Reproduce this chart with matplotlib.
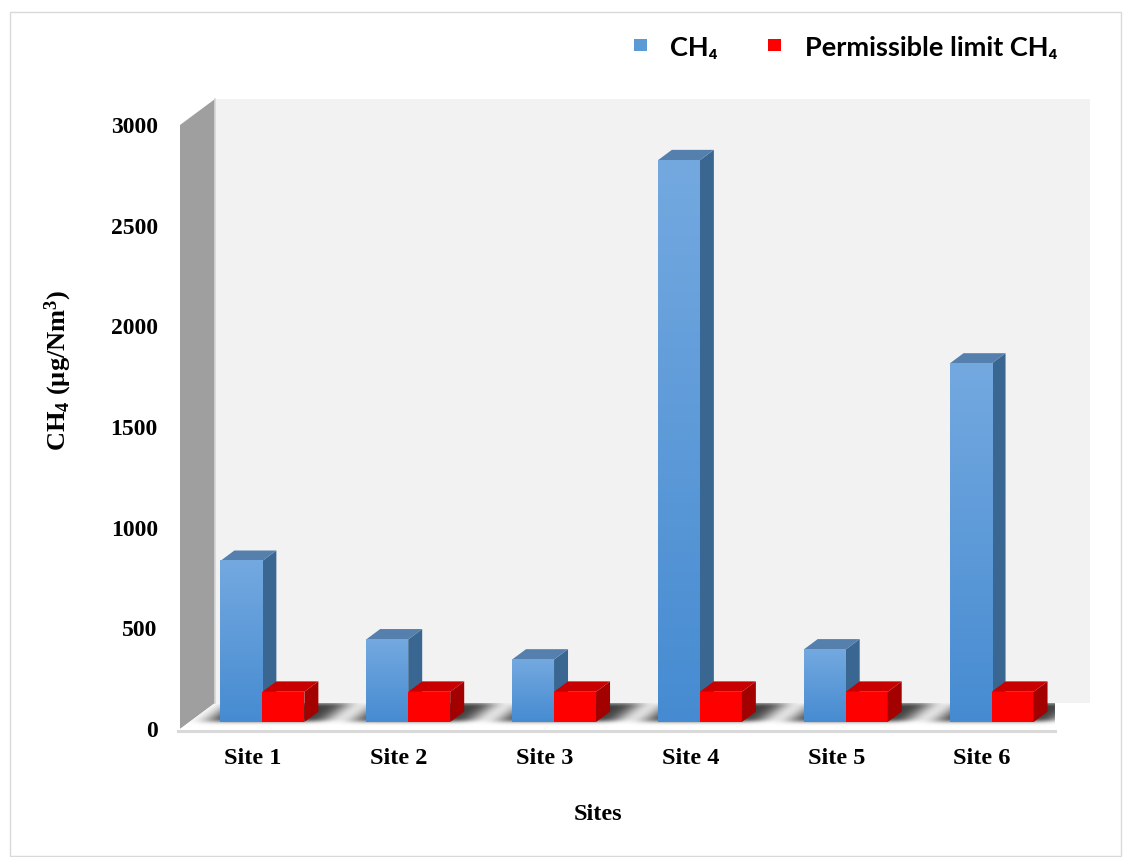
import numpy as np
import matplotlib
matplotlib.use("Agg")
import matplotlib.pyplot as plt
from matplotlib.patches import Polygon, Rectangle
from matplotlib.lines import Line2D
from matplotlib.transforms import Affine2D, IdentityTransform

# ---- data ----
sites = ["Site 1", "Site 2", "Site 3", "Site 4", "Site 5", "Site 6"]
ch4 = [800, 410, 310, 2790, 360, 1780]
limit_ch4 = [150, 150, 150, 150, 150, 150]
y_ticks = [0, 500, 1000, 1500, 2000, 2500, 3000]

plt.rcParams["mathtext.fontset"] = "custom"
plt.rcParams["mathtext.rm"] = "Liberation Serif:bold"
plt.rcParams["mathtext.bf"] = "Liberation Serif:bold"
plt.rcParams["mathtext.it"] = "Liberation Serif:bold:italic"

W, H, DPI = 1127, 857, 100
fig = plt.figure(figsize=(W / DPI, H / DPI), dpi=DPI)
fig.patch.set_facecolor("white")

# front plane of the 3-D box (pixel columns / rows, rows counted from top)
X0, X1 = 180, 1055
R0, R1 = 729, 125
ax = fig.add_axes([X0 / W, 1 - R0 / H, (X1 - X0) / W, (R0 - R1) / H])
ax.set_xlim(0, 6)
ax.set_ylim(0, 3000)
ax.patch.set_visible(False)
for s in ax.spines.values():
    s.set_visible(False)

DX, DY = 35.0, 26.0          # full depth of the box, display pixels
F0, F1 = 0.27, 0.67          # depth slab occupied by the bars
BW = 0.288                   # width of one bar in category units


def P(x, y, f):
    px, py = ax.transData.transform((x, y))
    return (px + f * DX, py + f * DY)


def face(pts, color, z, **kw):
    ax.add_patch(Polygon(pts, closed=True, facecolor=color, edgecolor="none",
                         transform=IdentityTransform(), clip_on=False,
                         zorder=z, **kw))


# ---- walls and floor ----
face([P(0, 0, 1), P(6, 0, 1), P(6, 3000, 1), P(0, 3000, 1)], "#f2f2f2", 0)
face([P(0, 0, 0), P(0, 3000, 0), P(0, 3000, 1), P(0, 0, 1)], "#9f9f9f", 1)
floor_pts = [P(0, 0, 0), P(6, 0, 0), P(6, 0, 1), P(0, 0, 1)]
floor_patch = Polygon(floor_pts, closed=True, facecolor="white",
                      edgecolor="none", transform=IdentityTransform(),
                      clip_on=False, zorder=1)
ax.add_patch(floor_patch)
(a0x, a0y), (a1x, a1y) = P(0, 0, 0), P(6, 0, 0)
ax.add_line(Line2D([a0x - 2, a1x], [a0y - 1.5, a1y - 1.5], color="#d9d9d9",
                   lw=2.2, transform=IdentityTransform(), clip_on=False,
                   zorder=1.5))
(b0x, b0y), (b1x, b1y) = P(0, 0, 1), P(0, 3000, 1)
ax.add_line(Line2D([b0x, b1x], [b0y, b1y], color="#d6d6d6", lw=1.2,
                   transform=IdentityTransform(), clip_on=False, zorder=1.6))

# ---- soft shadows of the bar groups on the floor ----
nu, nv = 1200, 120
u = np.linspace(0, 6, nu)
v = np.linspace(0, 1, nv)
field = np.zeros((nv, nu))
centers = np.arange(len(sites)) + 0.5
for c in centers:
    cols = (u >= c - BW - 0.10) & (u <= c + BW + 0.13)
    rows = (v >= F0 + 0.02) & (v <= 1.0)
    field[np.ix_(rows, cols)] = 1.0


def blur(a, sigma, axis):
    k = np.arange(-int(4 * sigma), int(4 * sigma) + 1)
    g = np.exp(-0.5 * (k / sigma) ** 2)
    g /= g.sum()
    return np.apply_along_axis(lambda m: np.convolve(m, g, mode="same"), axis, a)


field = blur(field, 14, 1)
field = blur(field, 9, 0)
img = np.zeros((nv, nu, 4))
img[..., :3] = 0.16
img[..., 3] = np.clip(field * 0.9, 0, 1)
ox, oy = ax.transData.transform((0, 0))
sx = ax.transData.transform((1, 0))[0] - ox
floor_tr = Affine2D().from_values(sx, 0, DX, DY, ox, oy)
shadow = ax.imshow(img, extent=(0, 6, 0, 1), origin="lower", aspect="auto",
                   transform=floor_tr, interpolation="bilinear", zorder=2)
shadow.set_clip_path(floor_patch)

# ---- bars ----
bar_tr = ax.transData + Affine2D().translate(F0 * DX, F0 * DY)
blue_left = centers - BW
red_left = centers

blue_bars = ax.bar(blue_left, ch4, width=BW, align="edge", color="#5b9bd5",
                   transform=bar_tr, zorder=3, clip_on=False)
red_bars = ax.bar(red_left, limit_ch4, width=BW, align="edge", color="#ff0000",
                  transform=bar_tr, zorder=6, clip_on=False)

top_rgb = np.array([0x74, 0xa9, 0xe0]) / 255
bot_rgb = np.array([0x46, 0x8b, 0xd1]) / 255
grad = np.linspace(0, 1, 256)[:, None]
grad_img = bot_rgb[None, None, :] * (1 - grad[..., None]) + top_rgb[None, None, :] * grad[..., None]

for xl, h in zip(blue_left, ch4):
    xr = xl + BW
    ax.imshow(grad_img, extent=(xl, xr, 0, h), origin="lower", aspect="auto",
              transform=bar_tr, interpolation="bilinear", zorder=3.5,
              clip_on=False)
    # side and top faces
    face([P(xr, 0, F0), P(xr, h, F0), P(xr, h, F1), P(xr, 0, F1)], "#3a6792", 3.2)
    face([P(xl, h, F0), P(xr, h, F0), P(xr, h, F1), P(xl, h, F1)], "#557fad", 3.2)

for xl, h in zip(red_left, limit_ch4):
    xr = xl + BW
    face([P(xr, 0, F0), P(xr, h, F0), P(xr, h, F1), P(xr, 0, F1)], "#a30000", 6.2)
    face([P(xl, h, F0), P(xr, h, F0), P(xr, h, F1), P(xl, h, F1)], "#c80000", 6.2)

ax.set_xlim(0, 6)
ax.set_ylim(0, 3000)

# ---- ticks and labels ----
serif = dict(family="Liberation Serif", weight="bold")
ax.set_yticks(y_ticks)
ax.set_yticklabels([str(t) for t in y_ticks], fontsize=17, **serif)
ax.set_xticks(centers)
ax.set_xticklabels(sites, fontsize=17.5, **serif)
ax.tick_params(axis="y", length=0, pad=16)
ax.tick_params(axis="x", length=0, pad=14)

fig.text(598 / W, 1 - 815 / H, "Sites", ha="center", va="center",
         fontsize=17.5, **serif)
fig.text(58 / W, 1 - 370 / H, r"CH$_{\mathrm{4}}$ (µg/Nm$^{\mathrm{3}}$)",
         ha="center", va="center", rotation=90, fontsize=19, **serif)

# ---- legend ----
legend_font = dict(family=["Lato", "DejaVu Sans"], weight="bold", fontsize=19.5)
fig.add_artist(Rectangle((634, H - 51), 13, 12, facecolor="#5b9bd5",
                         edgecolor="none", transform=IdentityTransform()))
fig.add_artist(Rectangle((768, H - 51), 13, 12, facecolor="#ff0000",
                         edgecolor="none", transform=IdentityTransform()))
fig.text(670 / W, 1 - 48 / H, "CH₄", ha="left", va="center", **legend_font)
fig.text(805 / W, 1 - 48 / H, "Permissible limit CH₄", ha="left", va="center",
         **legend_font)

# outer frame
fig.add_artist(Rectangle((10, 1), 1111, 844, facecolor="none",
                         edgecolor="#d9d9d9", lw=1.0,
                         transform=IdentityTransform()))

fig.savefig("out.png", dpi=DPI)
